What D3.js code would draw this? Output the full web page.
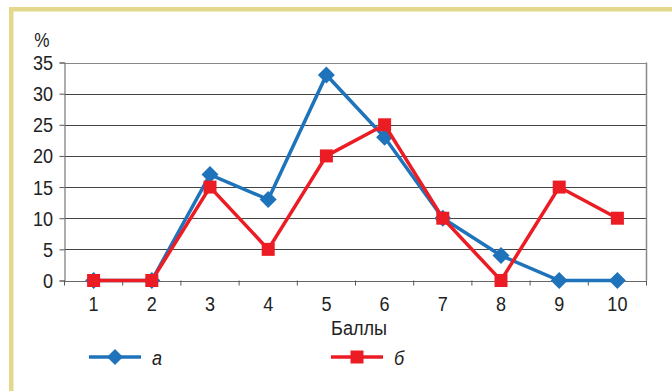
<!DOCTYPE html>
<html>
<head>
<meta charset="utf-8">
<script src="https://cdn.jsdelivr.net/npm/d3@7"></script>
<style>
  html, body { margin: 0; padding: 0; background: #fff; }
  svg { display: block; }
  text { font-family: "Liberation Sans", Arial, sans-serif; fill: #222; }
</style>
</head>
<body>
<svg id="chart" width="672" height="391"></svg>
<script>
// Scores 1..10 and share of respondents (%) for groups "а" and "б"
const categories = [1, 2, 3, 4, 5, 6, 7, 8, 9, 10];
const seriesA = [0, 0, 17, 13, 33, 23, 10, 4, 0, 0];
const seriesB = [0, 0, 15, 5, 20, 25, 10, 0, 15, 10];
const yTicks = [0, 5, 10, 15, 20, 25, 30, 35];
const seriesNames = ["а", "б"];
const xTitle = "Баллы";
const yUnit = "%";

const svg = d3.select("#chart");
const W = 672, H = 391;
const margin = { left: 64.5, right: 25.5, top: 62.5, bottom: 110.5 };
const NARROW = 0.86; // condensed look for labels

// Condensed label helper: squeeze horizontally around the anchor point
function label(sel, px, py, str, opts = {}) {
  return sel.append("text")
    .attr("transform", `translate(${px},${py}) scale(${NARROW},1)`)
    .attr("text-anchor", opts.anchor || "middle")
    .attr("font-size", opts.size || 21)
    .attr("font-style", opts.italic ? "italic" : null)
    .text(str);
}

// Decorative frame: top and left yellow bars
svg.append("rect").attr("x", 9).attr("y", 7).attr("width", W - 9).attr("height", 4.5).attr("fill", "#e4d88c");
svg.append("rect").attr("x", 9).attr("y", 7).attr("width", 4.5).attr("height", H - 7).attr("fill", "#e4d88c");

const x = d3.scaleBand().domain(categories).range([margin.left, W - margin.right]);
const y = d3.scaleLinear().domain([0, 35]).range([H - margin.bottom, margin.top]);
const cx = d => x(d) + x.bandwidth() / 2;

// Horizontal gridlines
svg.append("g").selectAll("line").data(yTicks.filter(t => t > 0)).join("line")
  .attr("x1", margin.left).attr("x2", W - margin.right)
  .attr("y1", d => Math.round(y(d)) + 0.5).attr("y2", d => Math.round(y(d)) + 0.5)
  .attr("stroke", d => d === 35 ? "#888" : "#444").attr("stroke-width", 1);

// Right border of plot area
svg.append("line").attr("x1", W - margin.right).attr("x2", W - margin.right)
  .attr("y1", margin.top).attr("y2", y(0)).attr("stroke", "#888").attr("stroke-width", 1.5);

// Y axis (line + ticks from d3, labels drawn condensed)
const yAxis = d3.axisLeft(y).tickValues(yTicks).tickSize(5).tickFormat("");
const gy = svg.append("g").attr("transform", `translate(${margin.left},0)`).call(yAxis);
gy.select(".domain").attr("stroke", "#777").attr("stroke-width", 1.2);
gy.selectAll(".tick line").attr("stroke", "#555");
const yl = svg.append("g");
yTicks.forEach(t => label(yl, 53, y(t) + 7.5, t, { anchor: "end" }));

// X axis: ticks sit at band boundaries, labels at band centres
const bounds = categories.map(c => x(c)).concat([x(categories[categories.length - 1]) + x.bandwidth()]);
const gx = svg.append("g");
gx.append("line").attr("x1", margin.left).attr("x2", W - margin.right)
  .attr("y1", Math.round(y(0)) + 0.5).attr("y2", Math.round(y(0)) + 0.5).attr("stroke", "#666");
gx.selectAll("line.tk").data(bounds).join("line").attr("class", "tk")
  .attr("x1", d => d).attr("x2", d => d)
  .attr("y1", y(0)).attr("y2", y(0) + 5).attr("stroke", "#555");
categories.forEach(c => label(gx, cx(c), y(0) + 30, c));

label(svg, 359, 335, xTitle);
label(svg, 42, 47, yUnit, { size: 20 });

const blue = "#1f73bb", red = "#ec1c24";
const line = d3.line().x((d, i) => cx(categories[i])).y(d => y(d));
const diamond = s => `M0,${-s}L${s},0L0,${s}L${-s},0Z`;
const square = s => `M${-s},${-s}H${s}V${s}H${-s}Z`;

function drawSeries(values, color, shape) {
  const g = svg.append("g");
  g.append("path").datum(values).attr("d", line).attr("fill", "none")
    .attr("stroke", color).attr("stroke-width", 3.5).attr("stroke-linejoin", "miter");
  g.selectAll("path.m").data(values).join("path").attr("class", "m")
    .attr("transform", (d, i) => `translate(${cx(categories[i])},${y(d)})`)
    .attr("d", shape).attr("fill", color);
}
drawSeries(seriesA, blue, diamond(8.5));
drawSeries(seriesB, red, square(6.5));

// Legend
const legend = [
  { name: seriesNames[0], color: blue, shape: diamond(8), x0: 89 },
  { name: seriesNames[1], color: red, shape: square(6.5), x0: 331 }
];
legend.forEach(d => {
  const g = svg.append("g").attr("transform", `translate(${d.x0},357)`);
  g.append("line").attr("x1", 0).attr("x2", 52).attr("stroke", d.color).attr("stroke-width", 3.5);
  g.append("path").attr("transform", "translate(26,0)").attr("d", d.shape).attr("fill", d.color);
  label(g, 63, 8, d.name, { anchor: "start", italic: true });
});
</script>
</body>
</html>
